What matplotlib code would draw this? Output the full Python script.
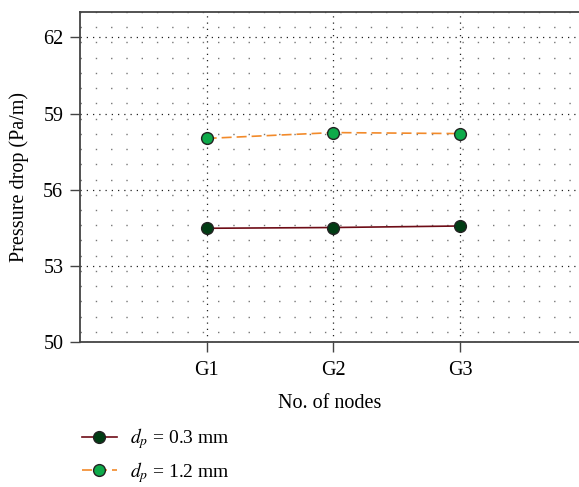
import numpy as np
import matplotlib.pyplot as plt
from matplotlib.ticker import MultipleLocator

plt.rcParams['font.family'] = ['Liberation Serif', 'DejaVu Serif']
plt.rcParams['mathtext.fontset'] = 'stix'

nodes = ['G1', 'G2', 'G3']
dp_03 = [54.48, 54.51, 54.57]   # d_p = 0.3 mm
dp_12 = [58.02, 58.25, 58.21]   # d_p = 1.2 mm

x = np.arange(1, len(nodes) + 1)

fig = plt.figure(figsize=(5.79, 4.87), dpi=100)
ax = fig.add_axes([80 / 579, 1 - 342 / 487, 1 - 80 / 579, 330 / 487])

ax.plot(x, dp_03, color='#6e0c16', lw=1.2, marker='o', ms=8.5,
        mfc='#013d14', mec='#222222', mew=1.0, zorder=3,
        label=r'$d_p$ = 0.3 mm')
ax.plot(x, dp_12, color='#f28a2a', lw=1.2, ls=(0, (6, 3)), marker='o', ms=8.5,
        mfc='#0eaa4a', mec='#222222', mew=1.0, zorder=3,
        label=r'$d_p$ = 1.2 mm')

ax.set_xlim(0, 3.94)
ax.set_ylim(50, 63)
ax.set_xticks(x)
ax.set_xticklabels(nodes)
ax.set_yticks([50, 53, 56, 59, 62])
ax.yaxis.set_minor_locator(MultipleLocator(0.6))

ax.grid(True, which='major', color='#222222', ls=(0, (1, 4)), lw=0.9)
ax.grid(True, which='minor', axis='y', color='#777777', ls=(0, (1, 10)), lw=1.0)

ax.tick_params(axis='both', which='major', direction='out', length=7,
               width=1, labelsize=14.5, color='#444444')
ax.tick_params(axis='x', which='major', pad=7)
ax.tick_params(axis='y', which='major', pad=5)
ax.tick_params(axis='y', which='minor', length=0)
for s in ['left', 'bottom', 'top']:
    ax.spines[s].set_color('#444444')
    ax.spines[s].set_linewidth(1.3)
ax.spines['right'].set_visible(False)

ax.set_xlabel('No. of nodes', fontsize=14.5, labelpad=10)
ax.set_ylabel('Pressure drop (Pa/m)', fontsize=14.5, labelpad=10)

ax.legend(loc='upper left', bbox_to_anchor=(-0.02, -0.22), frameon=False,
          fontsize=14, handlelength=1.8, handletextpad=0.7, labelspacing=0.45,
          borderaxespad=0.2)

fig.savefig('out.png', dpi=100)
